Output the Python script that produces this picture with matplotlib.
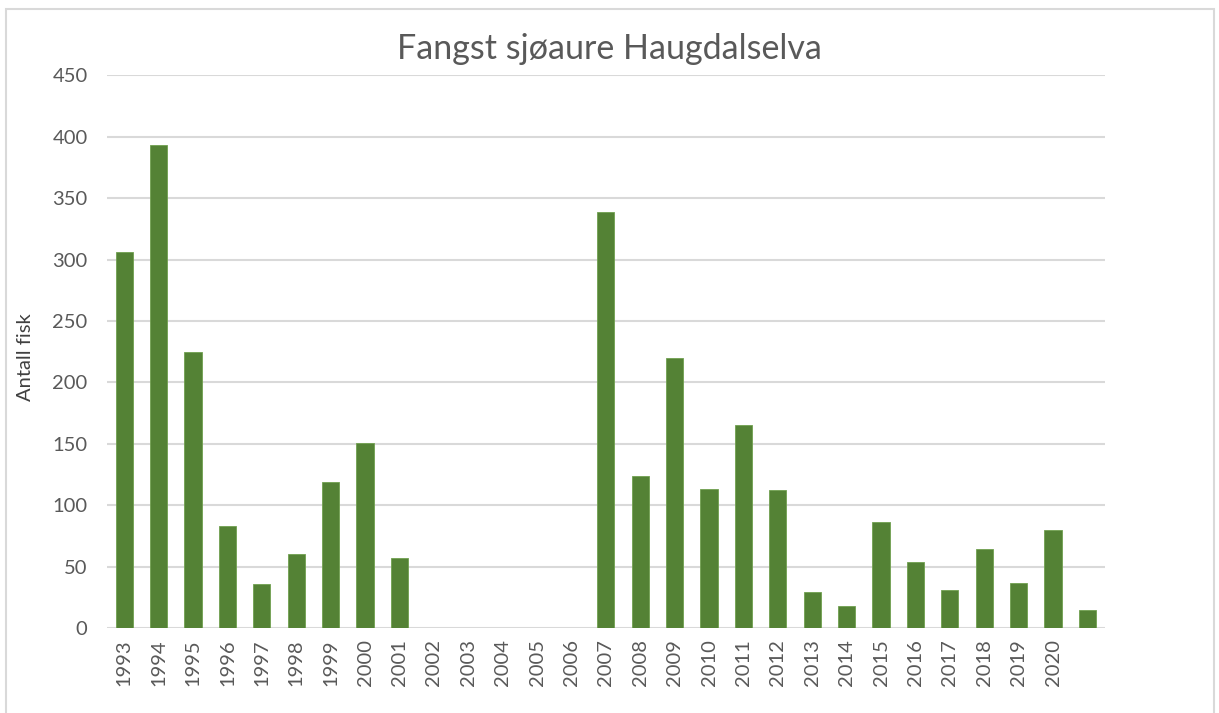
import matplotlib
matplotlib.use("Agg")
import matplotlib.pyplot as plt
from matplotlib.patches import Rectangle

# Catch of sea trout per year
years = [str(y) for y in range(1993, 2022)]
catch = [306, 393, 225, 83, 36, 60, 119, 151, 57,
         0, 0, 0, 0, 0,
         339, 124, 220, 113, 165, 112, 29, 18, 86, 54, 31, 64, 37, 80, 15]
tick_labels = years[:-1] + [""]

plt.rcParams['font.family'] = ['Lato', 'DejaVu Sans']

fig = plt.figure(figsize=(12.19, 7.13), dpi=100)
ax = fig.add_axes([0.0878, 0.1192, 0.8184, 0.7752])

x = list(range(len(years)))
ax.bar(x, catch, width=0.5, color='#548235', edgecolor='#70a04f', linewidth=0.6, zorder=3)

ax.set_xlim(-0.5, len(years) - 0.5)
ax.set_ylim(0, 450)
ax.set_yticks(range(0, 451, 50))
ax.set_xticks(x)
ax.set_xticklabels(tick_labels, rotation=90)
ax.tick_params(axis='both', length=0, labelsize=14.5, labelcolor='#595959')
ax.tick_params(axis='y', pad=14)
ax.tick_params(axis='x', pad=8)

ax.yaxis.grid(True, color='#d9d9d9', linewidth=1.5, zorder=0)
for s in ax.spines.values():
    s.set_visible(False)

ax.set_ylabel('Antall fisk', fontsize=14.5, color='#404040', labelpad=12)
ax.yaxis.set_label_coords(-0.073, 0.49)
fig.text(0.5, 0.9168, 'Fangst sjøaure Haugdalselva', ha='center', va='baseline',
         fontsize=24.5, color='#595959')

# light frame around the whole chart
fig.patches.append(Rectangle((0.0047, -0.01), 0.9909, 0.998, transform=fig.transFigure,
                             fill=False, edgecolor='#d9d9d9', linewidth=1.5))

fig.savefig('out.png', dpi=100)
